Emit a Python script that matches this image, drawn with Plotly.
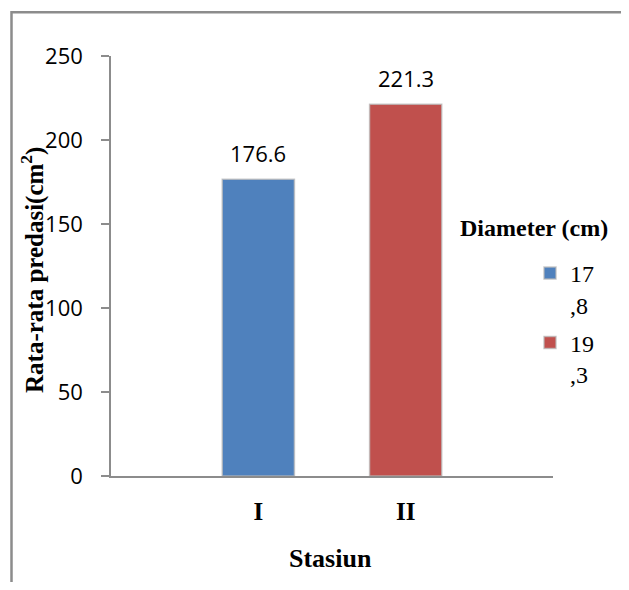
import plotly.graph_objects as go

# ---- data ----
stations = ["I", "II"]
series_names = ["17<br>,8", "19<br>,3"]
series_values = [176.6, 221.3]
series_colors = ["#4F81BD", "#C0504D"]
y_ticks = [0, 50, 100, 150, 200, 250]

OFF = 8  # page body margin offset
W, H = 629 - 2 * OFF, 590 - 2 * OFF   # figure fits the window without scrollbars
def px_x(p): return (p - OFF) / W
def px_y(p): return (H - (p - OFF)) / H

fig = go.Figure()
for i, (st, name, val, col) in enumerate(zip(stations, series_names, series_values, series_colors)):
    fig.add_trace(go.Bar(
        x=[st], y=[val], name=name, width=0.49, legendgroup=f"g{i}",
        marker=dict(color=col, line=dict(color="rgba(185,185,185,0.75)", width=1.5)),
    ))
    fig.add_annotation(x=st, y=val, text=f"{val:.1f}", showarrow=False,
                       yanchor="middle", yshift=26.5,
                       font=dict(family="Open Sans", size=22, color="#000"))

# axis titles / legend title
fig.add_annotation(x=px_x(32), y=px_y(270), xref="paper", yref="paper",
                   text="<b>Rata-rata predasi(cm<sup>2</sup>)</b>", textangle=-90,
                   showarrow=False, xanchor="center", yanchor="middle",
                   font=dict(family="Liberation Serif", size=25, color="#000"))
fig.add_annotation(x=px_x(330), y=px_y(558), xref="paper", yref="paper",
                   text="<b>Stasiun</b>", showarrow=False,
                   xanchor="center", yanchor="middle",
                   font=dict(family="Liberation Serif", size=26, color="#000"))
fig.add_annotation(x=px_x(534), y=px_y(228), xref="paper", yref="paper",
                   text="<b>Diameter (cm)</b>", showarrow=False,
                   xanchor="center", yanchor="middle",
                   font=dict(family="Liberation Serif", size=24, color="#000"))

# outer frame
fig.add_shape(type="rect", xref="paper", yref="paper",
              x0=px_x(11.5), x1=1.08, y0=-0.08, y1=px_y(12.3),
              line=dict(color="#8c8c8c", width=2.5), fillcolor="rgba(0,0,0,0)")

fig.update_layout(
    width=W, height=H,
    margin=dict(l=0, r=0, t=0, b=0, pad=0, autoexpand=False),
    paper_bgcolor="white", plot_bgcolor="white",
    barmode="overlay",
    showlegend=True,
    legend=dict(x=px_x(530), y=px_y(251), xanchor="left", yanchor="top",
                valign="top", bgcolor="rgba(0,0,0,0)",
                font=dict(family="Liberation Serif", size=24, color="#000"),
                tracegroupgap=4),
    xaxis=dict(domain=[px_x(111), px_x(553)], type="category",
               categoryorder="array", categoryarray=stations,
               range=[-1, 2], showline=True, linecolor="#8c8c8c", linewidth=2,
               ticks="", showgrid=False, zeroline=False,
               tickfont=dict(family="Liberation Serif", size=25, color="#000", weight="bold"),
               ticklabelstandoff=12),
    yaxis=dict(domain=[px_y(476), px_y(56)], range=[0, 250],
               tickvals=y_ticks, ticks="outside", ticklen=8, tickcolor="#8c8c8c",
               tickwidth=1.5, showline=True, linecolor="#8c8c8c", linewidth=1.5,
               showgrid=False, zeroline=False,
               tickfont=dict(family="Open Sans", size=22, color="#000"),
               ticklabelstandoff=14),
)

fig.write_html("out.html")
